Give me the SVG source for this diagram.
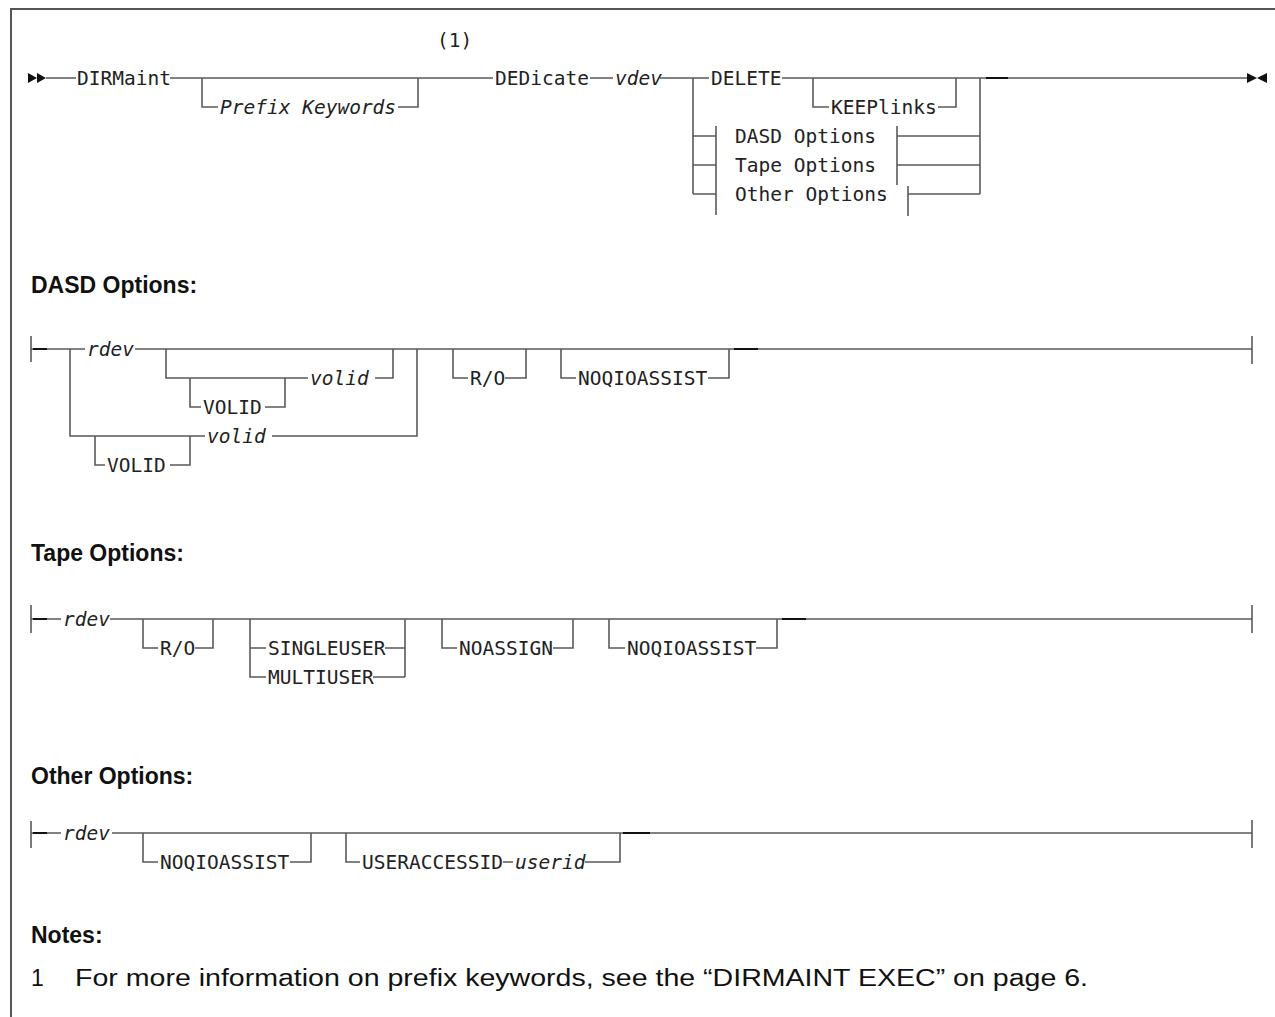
<svg xmlns="http://www.w3.org/2000/svg" width="1275" height="1017" viewBox="0 0 1275 1017">
<style>
.bg{fill:#fff}
.ln{stroke:#5a5a5a;stroke-width:1.6;fill:none}
.dk{stroke:#111;stroke-width:2;fill:none}
.fr{stroke:#555;stroke-width:2;fill:none}
.tx{font-family:"DejaVu Sans Mono",monospace;font-size:19.5px;fill:#222}
.it{font-style:italic}
.hd{font-family:"Liberation Sans",Arial,sans-serif;font-weight:bold;font-size:23px;fill:#111}
.nt{font-family:"Liberation Sans",Arial,sans-serif;font-size:23px;fill:#111}
.ah{fill:#111}
</style>
<rect class="bg" x="0" y="0" width="1275" height="1017"/>
<path class="fr" d="M11,1017 V9 H1275"/>

<g id="connectors">
  <!-- main diagram -->
  <path class="ln" d="M46,78 H76 M170,78 H493 M590,78 H613 M660,78 H709 M782,78 H1247"/>
  <path class="ln" d="M202,78 V107 H218 M398,107 H418 V78"/>
  <path class="ln" d="M693,78 V194 M693,136 H716 M693,165 H716 M693,194 H716 M716,126 V215"/>
  <path class="ln" d="M813,78 V107 H829 M938,107 H956 V78"/>
  <path class="ln" d="M897,126 V185 M908,186 V216 M897,136 H980 M897,165 H980 M908,194 H980 M980,78 V194"/>
  <path class="dk" d="M986,78 H1008"/>
  <!-- DASD -->
  <path class="ln" d="M31,336 V362 M31,349 H85 M135,349 H1252 M1252,336 V364"/>
  <path class="ln" d="M70,349 V436 H205 M272,436 H417 V349"/>
  <path class="ln" d="M95,436 V465 H105 M170,465 H190 V436"/>
  <path class="ln" d="M166,349 V378 H308 M375,378 H393 V349"/>
  <path class="ln" d="M190,378 V407 H201 M265,407 H285 V378"/>
  <path class="ln" d="M453,349 V378 H468 M505,378 H526 V349"/>
  <path class="ln" d="M561,349 V378 H576 M708,378 H729 V349"/>
  <path class="dk" d="M33,349 H47 M734,349 H758"/>
  <!-- Tape -->
  <path class="ln" d="M31,605 V633 M31,619 H61 M110,619 H1252 M1252,605 V633"/>
  <path class="ln" d="M143,619 V648 H158 M195,648 H213 V619"/>
  <path class="ln" d="M250,619 V677 H266 M250,648 H266 M385,648 H405 M373,677 H405 M405,677 V619"/>
  <path class="ln" d="M442,619 V648 H457 M553,648 H573 V619"/>
  <path class="ln" d="M609,619 V648 H625 M756,648 H777 V619"/>
  <path class="dk" d="M33,619 H47 M782,619 H806"/>
  <!-- Other -->
  <path class="ln" d="M31,821 V848 M31,833 H61 M112,833 H1252 M1252,820 V848"/>
  <path class="ln" d="M143,833 V862 H158 M290,862 H311 V833"/>
  <path class="ln" d="M346,833 V862 H360 M503,862 H513 M585,862 H620 V833"/>
  <path class="dk" d="M33,833 H47 M623,833 H650"/>
</g>

<g id="start"><polygon class="ah" points="28,73 37,78 28,83"/><polygon class="ah" points="37,73 46,78 37,83"/></g>
<g id="end"><polygon class="ah" points="1247,73 1257,78 1247,83"/><polygon class="ah" points="1267,73 1257,78 1267,83"/></g>

<g id="n-dirmaint"><text class="tx" x="77" y="85">DIRMaint</text></g>
<g id="n-prefix"><text class="tx it" x="220" y="114">Prefix Keywords</text></g>
<g id="n-note1"><text class="tx" x="437" y="47">(1)</text></g>
<g id="n-dedicate"><text class="tx" x="495" y="85">DEDicate</text></g>
<g id="n-vdev"><text class="tx it" x="615" y="85">vdev</text></g>
<g id="n-delete"><text class="tx" x="711" y="85">DELETE</text></g>
<g id="n-keeplinks"><text class="tx" x="831" y="114">KEEPlinks</text></g>
<g id="n-dasdref"><text class="tx" x="735" y="143">DASD Options</text></g>
<g id="n-taperef"><text class="tx" x="735" y="172">Tape Options</text></g>
<g id="n-otherref"><text class="tx" x="735" y="201">Other Options</text></g>

<g id="h-dasd"><text class="hd" x="31" y="293">DASD Options:</text></g>
<g id="d-rdev"><text class="tx it" x="87" y="356">rdev</text></g>
<g id="d-volid1"><text class="tx it" x="310" y="385">volid</text></g>
<g id="d-VOLID1"><text class="tx" x="203" y="414">VOLID</text></g>
<g id="d-volid2"><text class="tx it" x="207" y="443">volid</text></g>
<g id="d-VOLID2"><text class="tx" x="107" y="472">VOLID</text></g>
<g id="d-ro"><text class="tx" x="470" y="385">R/O</text></g>
<g id="d-noqio"><text class="tx" x="578" y="385">NOQIOASSIST</text></g>

<g id="h-tape"><text class="hd" x="31" y="561">Tape Options:</text></g>
<g id="t-rdev"><text class="tx it" x="63" y="626">rdev</text></g>
<g id="t-ro"><text class="tx" x="160" y="655">R/O</text></g>
<g id="t-single"><text class="tx" x="268" y="655">SINGLEUSER</text></g>
<g id="t-multi"><text class="tx" x="268" y="684">MULTIUSER</text></g>
<g id="t-noassign"><text class="tx" x="459" y="655">NOASSIGN</text></g>
<g id="t-noqio"><text class="tx" x="627" y="655">NOQIOASSIST</text></g>

<g id="h-other"><text class="hd" x="31" y="784">Other Options:</text></g>
<g id="o-rdev"><text class="tx it" x="63" y="840">rdev</text></g>
<g id="o-noqio"><text class="tx" x="160" y="869">NOQIOASSIST</text></g>
<g id="o-useracc"><text class="tx" x="362" y="869">USERACCESSID</text></g>
<g id="o-userid"><text class="tx it" x="515" y="869">userid</text></g>

<g id="notes">
<text class="hd" x="31" y="943">Notes:</text>
<text class="nt" x="31" y="986">1</text>
<text class="nt" x="75" y="986" textLength="1013" lengthAdjust="spacingAndGlyphs">For more information on prefix keywords, see the “DIRMAINT EXEC” on page 6.</text>
</g>
</svg>
